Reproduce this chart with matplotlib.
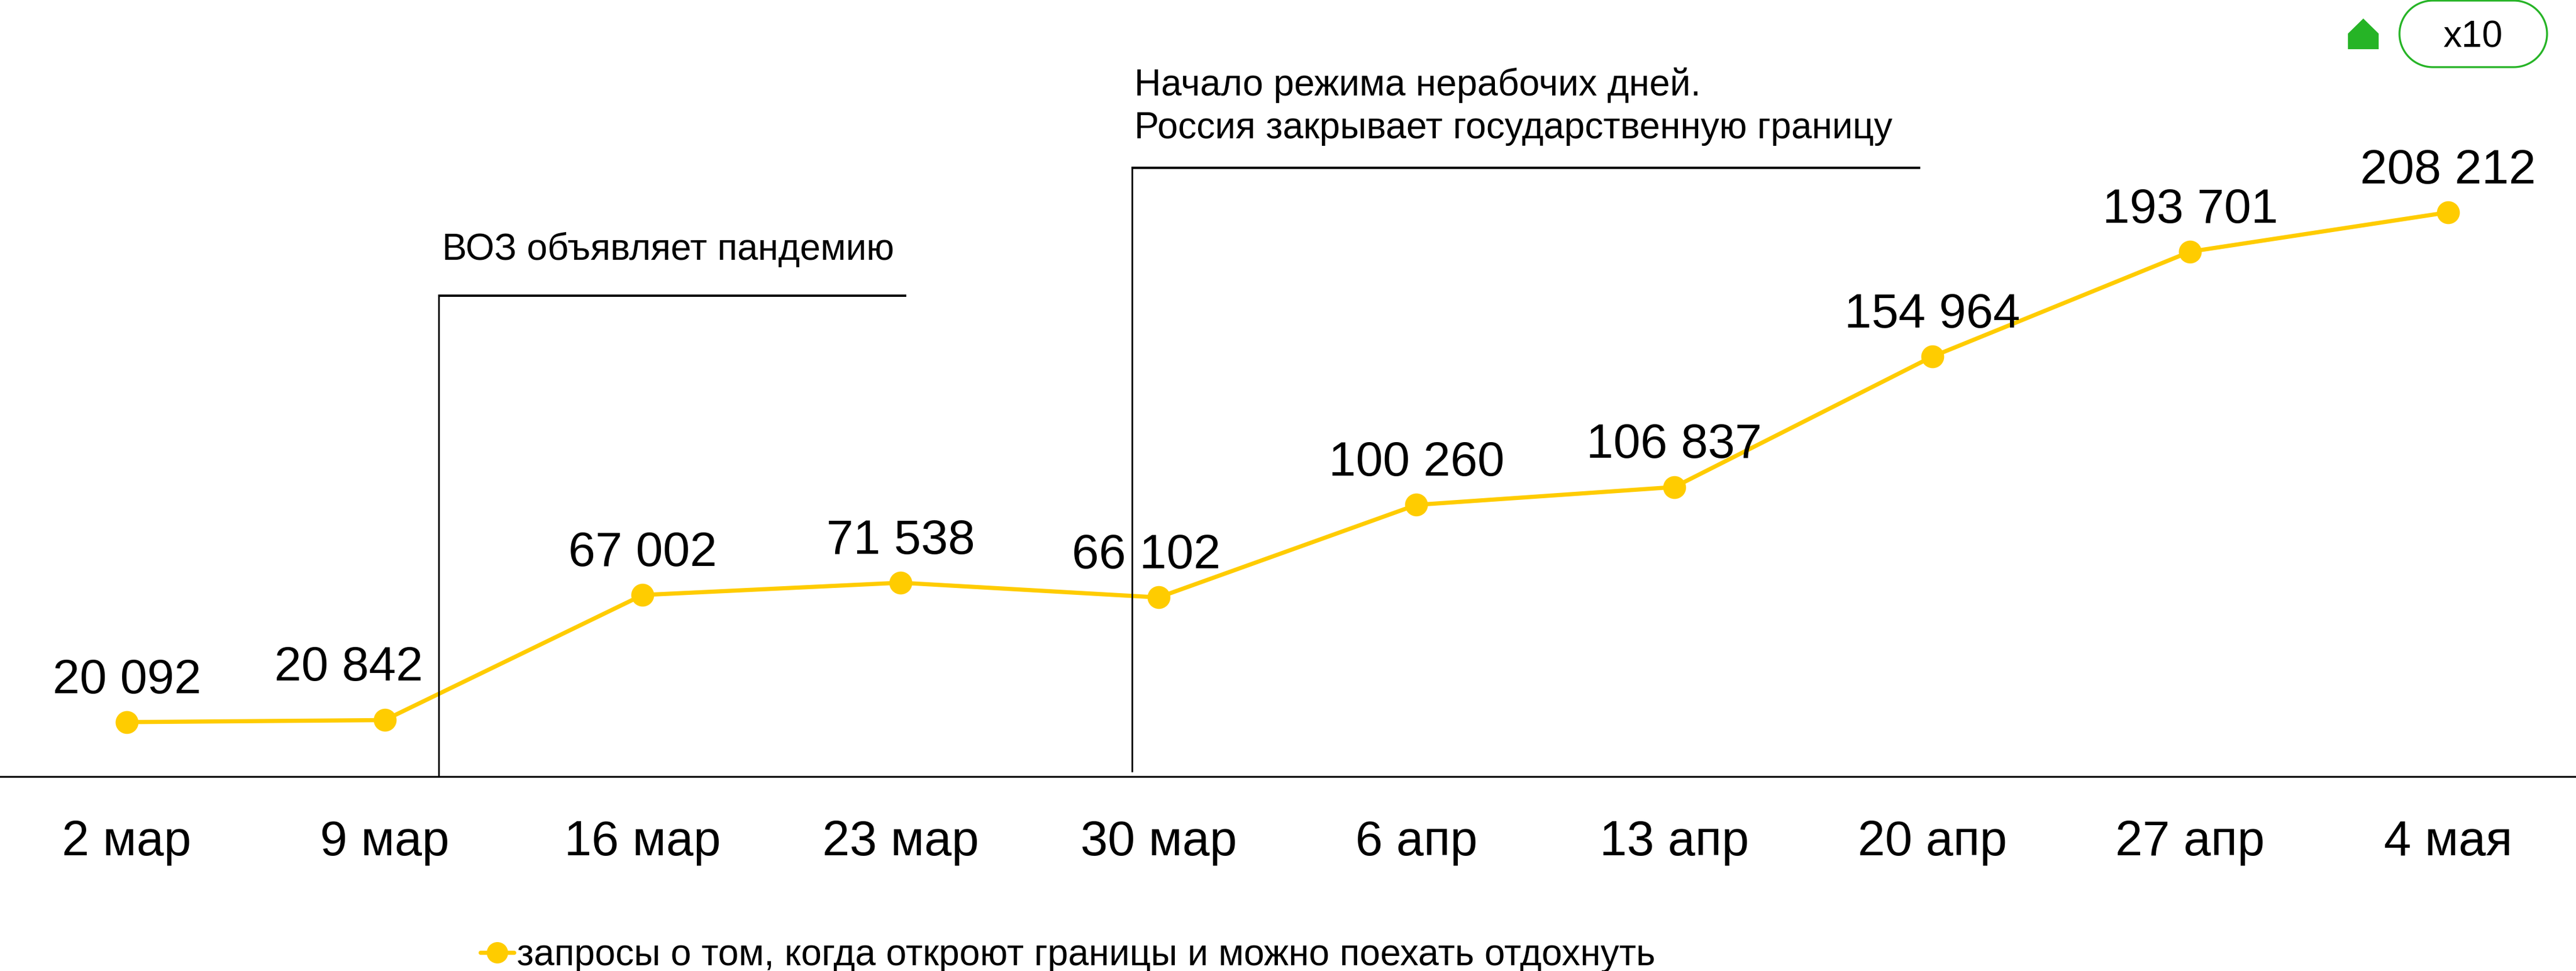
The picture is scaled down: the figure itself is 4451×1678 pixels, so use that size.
import numpy as np
import matplotlib
matplotlib.use("Agg")
import matplotlib.pyplot as plt
from matplotlib.patches import Polygon
from matplotlib.lines import Line2D

W, H = 4451, 1678
categories = ["2 мар", "9 мар", "16 мар", "23 мар", "30 мар", "6 апр", "13 апр", "20 апр", "27 апр", "4 мая"]
values = [20092, 20842, 67002, 71538, 66102, 100260, 106837, 154964, 193701, 208212]
labels = ["20 092", "20 842", "67 002", "71 538", "66 102", "100 260", "106 837", "154 964", "193 701", "208 212"]
series_name = "запросы о том, когда откроют границы и можно поехать отдохнуть"
note1 = "ВОЗ объявляет пандемию"
note2 = "Начало режима нерабочих дней.\nРоссия закрывает государственную границу"
badge = "x10"

YEL = "#FFCC00"
GRN = "#26B426"
plt.rcParams["font.family"] = ["Liberation Sans", "DejaVu Sans"]

# manual nudges of two value labels, in points
label_nudge = {1: (-45, 13), 4: (-15, 0)}

def fx(p): return p / W
def fy(p): return 1 - p / H

fig = plt.figure(figsize=(W / 100, H / 100), dpi=100, facecolor="white")
ax = fig.add_axes([0, 1 - 1342 / H, 1, 1342 / H])
step = (4230 - 219) / 9
ax.set_xlim(-219 / step, (W - 219) / step)
ax.set_ylim(0, 1342 / 0.004683)
for s in ("top", "left", "right"):
    ax.spines[s].set_visible(False)
ax.spines["bottom"].set_linewidth(2.4)
ax.spines["bottom"].set_color("#111111")
ax.set_yticks([])
xs = list(range(len(categories)))
ax.set_xticks(xs, categories, fontsize=61)
ax.tick_params(axis="x", length=0, pad=53)
ax.set_facecolor("none")

ax.plot(xs, values, color=YEL, lw=5.2, marker="o", ms=28.5, mew=0, zorder=3,
        solid_capstyle="round", label=series_name, clip_on=False)
for i, (x, v, t) in enumerate(zip(xs, values, labels)):
    dx, dy = label_nudge.get(i, (0, 0))
    ax.annotate(t, (x, v), xytext=(dx, 24 + dy), textcoords="offset points", ha="center",
                va="bottom", fontsize=60.5, color="black", zorder=5)

# event annotations
def bracket(px, ytop, ybot, xend):
    fig.add_artist(Line2D([fx(px), fx(px)], [fy(ybot), fy(ytop)], color="black", lw=2.0,
                          solid_capstyle="butt"))
    fig.add_artist(Line2D([fx(px - 1), fx(xend)], [fy(ytop), fy(ytop)], color="black", lw=2.9,
                          solid_capstyle="butt"))
bracket(758, 511, 1342, 1566)
bracket(1956, 290, 1334, 3318)
fig.text(fx(764), fy(448), note1, fontsize=46, ha="left", va="baseline")
fig.text(fx(1960), fy(239), note2, fontsize=46, ha="left", va="baseline", linespacing=1.3)

# badge: stadium outline in display coordinates
r = 57.5
cy = H - 58.5
t = np.linspace(-np.pi / 2, np.pi / 2, 60)
right = np.c_[4401 - r + r * np.cos(t), cy + r * np.sin(t)]
left = np.c_[4146 + r - r * np.cos(t[::-1]), cy + r * np.sin(t[::-1])]
fig.add_artist(Polygon(np.vstack([right, left]), closed=True, transform=None,
                       fc="white", ec=GRN, lw=2.4))
fig.text(fx(4273), fy(82), badge, fontsize=46, ha="center", va="baseline")
fig.add_artist(Polygon([(4057, H - 85), (4110, H - 85), (4110, H - 58), (4083.5, H - 32), (4057, H - 58)],
                       closed=True, transform=None, fc=GRN, ec="none"))

# legend
handles = [Line2D([], [], color=YEL, lw=5.2, marker="o", ms=26.6, mew=0, solid_capstyle="round")]
leg = fig.legend(handles, [series_name], loc="lower left", bbox_to_anchor=(fx(830), fy(1681)),
                 frameon=False, fontsize=46, handlelength=0.9, handletextpad=0.08,
                 borderpad=0, borderaxespad=0)
fig.savefig("out.png", dpi=100, facecolor="white")
